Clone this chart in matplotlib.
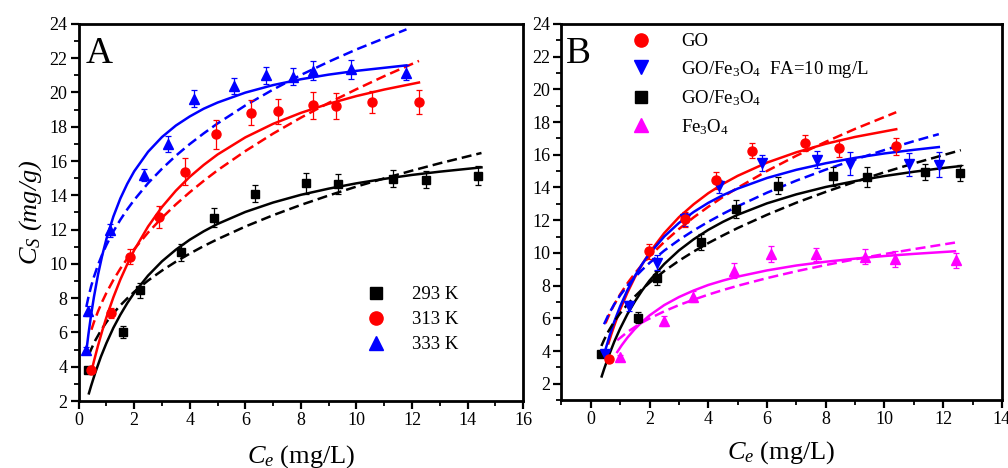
import matplotlib
matplotlib.use("Agg")
import matplotlib.pyplot as plt
from matplotlib.lines import Line2D
from matplotlib.ticker import MultipleLocator

plt.rcParams["font.family"] = ["Liberation Serif", "DejaVu Serif"]
plt.rcParams["mathtext.fontset"] = "custom"
plt.rcParams["mathtext.rm"] = "Liberation Serif"
plt.rcParams["mathtext.it"] = "Liberation Serif:italic"

# ---- panel A : measured points ----
a_x_293 = [0.33, 1.60, 2.21, 3.70, 4.87, 6.34, 8.18, 9.32, 11.30, 12.49, 14.36]
a_y_293 = [3.83, 6.03, 8.45, 10.68, 12.70, 14.09, 14.69, 14.65, 14.96, 14.90, 15.14]
a_e_293 = [0.15, 0.34, 0.44, 0.5, 0.55, 0.5, 0.6, 0.6, 0.5, 0.5, 0.55]

a_x_313 = [0.46, 1.15, 1.85, 2.90, 3.84, 4.95, 6.20, 7.19, 8.45, 9.25, 10.57, 12.25]
a_y_313 = [3.83, 7.13, 10.43, 12.73, 15.37, 17.55, 18.83, 18.89, 19.26, 19.22, 19.43, 19.45]
a_e_313 = [0.15, 0.3, 0.45, 0.63, 0.78, 0.85, 0.75, 0.75, 0.78, 0.75, 0.63, 0.68]

a_x_333 = [0.25, 0.35, 1.12, 2.34, 3.22, 4.15, 5.58, 6.74, 7.70, 8.45, 9.81, 11.79]
a_y_333 = [4.95, 7.26, 11.95, 15.20, 17.00, 19.64, 20.37, 20.99, 20.93, 21.28, 21.34, 21.16]
a_e_333 = [0.2, 0.3, 0.4, 0.34, 0.47, 0.5, 0.46, 0.5, 0.5, 0.55, 0.55, 0.44]

# ---- panel A : fitted curves (solid = Langmuir, dashed = Freundlich) ----
a_fx_293 = [0.37, 0.45, 0.6, 0.8, 1, 1.25, 1.5, 1.75, 2, 2.5, 3, 3.5, 4, 4.5,
            5, 6, 7, 8, 9, 10, 11, 12, 13, 14.5]
a_ls_293 = [2.45, 2.89, 3.66, 4.58, 5.38, 6.27, 7.03, 7.71, 8.31, 9.32, 10.15,
            10.83, 11.41, 11.90, 12.33, 13.03, 13.58, 14.03, 14.39, 14.70,
            14.96, 15.19, 15.38, 15.63]
a_fr_293 = [4.70, 5.02, 5.54, 6.11, 6.60, 7.12, 7.58, 7.99, 8.37, 9.03, 9.61,
            10.13, 10.60, 11.04, 11.44, 12.18, 12.84, 13.44, 13.99, 14.51,
            14.99, 15.44, 15.87, 16.47]

a_fx_313 = [0.46, 0.55, 0.7, 0.85, 1, 1.25, 1.5, 1.75, 2, 2.5, 3, 3.5, 4, 4.5,
            5, 6, 7, 8, 9, 10, 11, 12.25]
a_ls_313 = [3.72, 4.32, 5.25, 6.10, 6.88, 8.05, 9.08, 9.98, 10.80, 12.18,
            13.32, 14.27, 15.08, 15.77, 16.38, 17.38, 18.17, 18.81, 19.34,
            19.79, 20.17, 20.58]
a_fr_313 = [6.16, 6.60, 7.24, 7.80, 8.31, 9.06, 9.72, 10.31, 10.86, 11.83,
            12.69, 13.47, 14.18, 14.84, 15.46, 16.58, 17.60, 18.53, 19.39,
            20.19, 20.95, 21.84]

a_fx_333 = [0.28, 0.35, 0.45, 0.55, 0.7, 0.85, 1, 1.25, 1.5, 1.75, 2, 2.5, 3,
            3.5, 4, 4.5, 5, 6, 7, 8, 9, 10, 11.8]
a_ls_333 = [4.94, 5.86, 7.04, 8.06, 9.39, 10.50, 11.45, 12.76, 13.81, 14.67,
            15.40, 16.54, 17.40, 18.07, 18.60, 19.05, 19.41, 19.99, 20.43,
            20.77, 21.04, 21.26, 21.58]
a_fr_333 = [7.51, 8.04, 8.69, 9.24, 9.95, 10.56, 11.10, 11.89, 12.57, 13.18,
            13.73, 14.71, 15.55, 16.31, 16.99, 17.61, 18.19, 19.24, 20.17,
            21.02, 21.79, 22.51, 23.68]

# ---- panel B : measured points ----
b_x_go = [0.62, 1.98, 3.19, 4.25, 5.50, 7.31, 8.46, 10.38]
b_y_go = [3.50, 10.10, 12.05, 14.43, 16.25, 16.72, 16.39, 16.51]
b_e_go = [0.15, 0.45, 0.45, 0.5, 0.45, 0.5, 0.5, 0.5]

b_x_fa = [0.48, 1.30, 2.24, 3.22, 4.37, 5.83, 7.70, 8.83, 10.82, 11.84]
b_y_fa = [3.85, 6.77, 9.40, 12.06, 14.07, 15.50, 15.70, 15.46, 15.41, 15.40]
b_e_fa = [0.2, 0.3, 0.45, 0.4, 0.4, 0.5, 0.5, 0.68, 0.7, 0.78]

b_x_gf = [0.36, 1.61, 2.24, 3.76, 4.93, 6.38, 8.23, 9.40, 11.38, 12.57]
b_y_gf = [3.85, 6.04, 8.45, 10.68, 12.69, 14.12, 14.68, 14.65, 14.95, 14.89]
b_e_gf = [0.15, 0.34, 0.44, 0.5, 0.55, 0.5, 0.6, 0.6, 0.5, 0.5]

b_x_fe = [0.99, 2.49, 3.48, 4.86, 6.14, 7.68, 9.34, 10.36, 12.44]
b_y_fe = [3.62, 5.86, 7.33, 8.92, 9.91, 9.91, 9.77, 9.64, 9.56]
b_e_fe = [0.15, 0.3, 0.35, 0.46, 0.49, 0.41, 0.46, 0.49, 0.46]

# ---- panel B : fitted curves ----
b_fx_go = [0.6, 0.7, 0.8, 1, 1.25, 1.5, 1.75, 2, 2.5, 3, 3.5, 4, 4.5, 5, 6,
           7, 8, 9, 10.4]
b_ls_go = [4.47, 5.04, 5.57, 6.54, 7.59, 8.51, 9.31, 10.02, 11.21, 12.18,
           12.97, 13.65, 14.22, 14.71, 15.52, 16.15, 16.67, 17.09, 17.56]
b_dx_go = [0.5, 0.65, 0.8, 1, 1.25, 1.5, 1.75, 2, 2.5, 3, 3.5, 4, 4.5, 5, 6,
           7, 8, 9, 10.4]
b_fr_go = [5.70, 6.32, 6.85, 7.47, 8.15, 8.75, 9.29, 9.79, 10.67, 11.46,
           12.17, 12.82, 13.42, 13.98, 15.01, 15.94, 16.79, 17.58, 18.60]

b_fx_fa = [0.5, 0.65, 0.8, 1, 1.25, 1.5, 1.75, 2, 2.5, 3, 3.5, 4, 4.5, 5, 6,
           7, 8, 9, 10, 11, 11.85]
b_ls_fa = [4.10, 5.00, 5.81, 6.74, 7.74, 8.59, 9.32, 9.95, 11.00, 11.83,
           12.50, 13.06, 13.53, 13.93, 14.58, 15.08, 15.48, 15.81, 16.08,
           16.30, 16.47]
b_dx_fa = [0.45, 0.6, 0.8, 1, 1.25, 1.5, 1.75, 2, 2.5, 3, 3.5, 4, 4.5, 5, 6,
           7, 8, 9, 10, 11, 11.85]
b_fr_fa = [5.64, 6.22, 6.87, 7.41, 8.00, 8.51, 8.97, 9.39, 10.14, 10.79,
           11.37, 11.90, 12.39, 12.85, 13.68, 14.42, 15.09, 15.71, 16.29,
           16.83, 17.26]

b_fx_gf = [0.37, 0.45, 0.6, 0.8, 1, 1.25, 1.5, 1.75, 2, 2.5, 3, 3.5, 4, 4.5,
           5, 6, 7, 8, 9, 10, 11, 12, 12.6]
b_ls_gf = [2.45, 2.89, 3.66, 4.58, 5.38, 6.27, 7.03, 7.71, 8.31, 9.32, 10.15,
           10.83, 11.41, 11.90, 12.33, 13.03, 13.58, 14.03, 14.39, 14.70,
           14.96, 15.19, 15.31]
b_dx_gf = [0.36, 0.45, 0.6, 0.8, 1, 1.25, 1.5, 1.75, 2, 2.5, 3, 3.5, 4, 4.5,
           5, 6, 7, 8, 9, 10, 11, 12.6]
b_fr_gf = [4.31, 4.68, 5.21, 5.81, 6.31, 6.86, 7.34, 7.78, 8.18, 8.89, 9.52,
           10.08, 10.60, 11.07, 11.52, 12.33, 13.07, 13.73, 14.35, 14.93,
           15.47, 16.28]

b_fx_fe = [0.9, 1.05, 1.25, 1.5, 1.75, 2, 2.5, 3, 3.5, 4, 4.5, 5, 6, 7, 8, 9,
           10, 11, 12.4]
b_ls_fe = [3.94, 4.35, 4.83, 5.35, 5.79, 6.18, 6.81, 7.30, 7.70, 8.04, 8.31,
           8.55, 8.93, 9.23, 9.46, 9.65, 9.81, 9.94, 10.10]
b_dx_fe = [0.9, 1.25, 1.5, 1.75, 2, 2.5, 3, 3.5, 4, 4.5, 5, 6, 7, 8, 9, 10,
           11, 12.4]
b_fr_fe = [4.66, 5.17, 5.47, 5.75, 5.99, 6.43, 6.81, 7.14, 7.45, 7.73, 7.99,
           8.46, 8.88, 9.26, 9.61, 9.93, 10.23, 10.63]

a_labels = ["293 K", "313 K", "333 K"]
b_labels = ["GO", r"GO/Fe$_3$O$_4$  FA=10 mg/L", r"GO/Fe$_3$O$_4$", r"Fe$_3$O$_4$"]

LW = 1.8
DASH = (4, 2)


def style_axes(ax):
    for s in ax.spines.values():
        s.set_linewidth(2)
    ax.tick_params(which="both", direction="out", top=False, right=False,
                   labelsize=13, pad=2)
    ax.tick_params(which="major", length=6, width=1.6)
    ax.tick_params(which="minor", length=3.5, width=1.3)
    ax.xaxis.set_major_locator(MultipleLocator(2))
    ax.xaxis.set_minor_locator(MultipleLocator(1))
    ax.yaxis.set_major_locator(MultipleLocator(2))
    ax.yaxis.set_minor_locator(MultipleLocator(1))


def points(ax, x, y, e, c, m, ms):
    ax.errorbar(x, y, yerr=e, fmt=m, color=c, ms=ms, mec=c, ecolor=c,
                elinewidth=0.9, capsize=2.5, capthick=0.9, zorder=4)


fig = plt.figure(figsize=(10.08, 4.68), dpi=100)
axA = fig.add_axes([0.078, 0.143, 0.441, 0.806])
axB = fig.add_axes([0.557, 0.145, 0.437, 0.804])

# panel A
axA.plot(a_fx_293, a_ls_293, color="black", lw=LW)
axA.plot(a_fx_293, a_fr_293, color="black", lw=LW, dashes=DASH)
axA.plot(a_fx_313, a_ls_313, color="red", lw=LW)
axA.plot(a_fx_313, a_fr_313, color="red", lw=LW, dashes=DASH)
axA.plot(a_fx_333, a_ls_333, color="blue", lw=LW)
axA.plot(a_fx_333, a_fr_333, color="blue", lw=LW, dashes=DASH)
points(axA, a_x_293, a_y_293, a_e_293, "black", "s", 5.5)
points(axA, a_x_313, a_y_313, a_e_313, "red", "o", 6.5)
points(axA, a_x_333, a_y_333, a_e_333, "blue", "^", 7)

axA.set_xlim(0, 16)
axA.set_ylim(2, 24)
style_axes(axA)
axA.set_xlabel(r"$C_e$ (mg/L)", fontsize=19, labelpad=10)
axA.set_ylabel(r"$C_S$ (mg/g)", fontsize=19, style="italic", labelpad=4)
axA.text(0.016, 0.897, "A", transform=axA.transAxes, fontsize=27, va="baseline")

hA = [Line2D([], [], ls="none", marker="s", color="black", ms=8),
      Line2D([], [], ls="none", marker="o", color="red", ms=9.5),
      Line2D([], [], ls="none", marker="^", color="blue", ms=10)]
axA.legend(hA, a_labels, loc="upper left", bbox_to_anchor=(0.632, 0.325),
           frameon=False, fontsize=13.5, handlelength=1.0, handletextpad=1.4,
           labelspacing=0.42, borderpad=0.4, borderaxespad=0)

# panel B
axB.plot(b_fx_go, b_ls_go, color="red", lw=LW)
axB.plot(b_dx_go, b_fr_go, color="red", lw=LW, dashes=DASH)
axB.plot(b_fx_fa, b_ls_fa, color="blue", lw=LW)
axB.plot(b_dx_fa, b_fr_fa, color="blue", lw=LW, dashes=DASH)
axB.plot(b_fx_gf, b_ls_gf, color="black", lw=LW)
axB.plot(b_dx_gf, b_fr_gf, color="black", lw=LW, dashes=DASH)
axB.plot(b_fx_fe, b_ls_fe, color="magenta", lw=LW)
axB.plot(b_dx_fe, b_fr_fe, color="magenta", lw=LW, dashes=DASH)
points(axB, b_x_gf, b_y_gf, b_e_gf, "black", "s", 5.5)
points(axB, b_x_fe, b_y_fe, b_e_fe, "magenta", "^", 7)
points(axB, b_x_fa, b_y_fa, b_e_fa, "blue", "v", 7)
points(axB, b_x_go, b_y_go, b_e_go, "red", "o", 6.5)

axB.set_xlim(-1, 14)
axB.set_ylim(1, 24)
style_axes(axB)
axB.set_xlabel(r"$C_e$ (mg/L)", fontsize=19, labelpad=8)
axB.text(0.011, 0.896, "B", transform=axB.transAxes, fontsize=27, va="baseline")

hB = [Line2D([], [], ls="none", marker="o", color="red", ms=9.5),
      Line2D([], [], ls="none", marker="v", color="blue", ms=10),
      Line2D([], [], ls="none", marker="s", color="black", ms=8),
      Line2D([], [], ls="none", marker="^", color="magenta", ms=10)]
axB.legend(hB, b_labels, loc="upper left", bbox_to_anchor=(0.142, 0.995),
           frameon=False, fontsize=13.5, handlelength=1.0, handletextpad=1.65,
           labelspacing=0.46, borderpad=0.4, borderaxespad=0)

fig.savefig("out.png", dpi=100)
